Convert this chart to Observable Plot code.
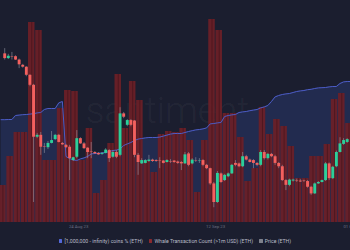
<!DOCTYPE html>
<html><head><meta charset="utf-8">
<script src="https://cdn.jsdelivr.net/npm/d3@7"></script>
<script src="https://cdn.jsdelivr.net/npm/@observablehq/plot@0.6"></script>
<style>
html,body{margin:0;padding:0;background:#1b1e2f;}
#chart{position:relative;width:350px;height:250px;overflow:hidden;background:#1b1e2f;font-family:Roboto,sans-serif;}
#chart svg{position:absolute;left:0;top:0;}
#legend{position:absolute;left:0;top:235px;width:350px;height:12px;display:flex;justify-content:center;align-items:center;gap:6px;font-size:5.2px;color:#b9bcc8;white-space:nowrap;}
.item{display:flex;align-items:center;gap:2px;}
.sw{width:3.6px;height:3.6px;border-radius:0.5px;display:inline-block;}
</style></head><body><div id="chart"><div id="legend"></div></div>
<script>
// ---- data ----
const startDay = Date.UTC(2023, 7, 13); // 13 Aug 2023, first day shown
// daily whale transaction count (>1m USD), 13 Aug .. 30 Sep
const whaleCounts = [37,66,90,90,200,192,62,62,114,132,131,62,94,29,42,79,148,94,141,122,62,50,88,91,90,94,82,30,82,203,192,109,109,85,41,54,115,88,103,96,76,44,44,66,66,78,123,129,99];
// [1,000,000 - infinity) coins % (12h points, index 0..97)
const holdersPct = [39.04,39.04,39.05,39.05,39.25,39.27,39.29,39.30,39.32,39.34,39.38,39.40,39.55,39.60,39.60,39.60,39.88,39.95,37.20,37.10,37.03,37.00,37.08,37.13,37.20,37.33,37.35,37.36,37.38,37.40,37.45,37.50,37.52,37.58,37.75,37.83,37.90,38.00,38.07,38.10,38.13,38.15,38.15,38.15,38.17,38.22,38.27,38.32,38.35,38.35,38.35,38.40,38.45,38.49,38.53,38.55,38.58,38.63,38.83,38.85,38.88,38.90,39.20,39.25,39.28,39.30,39.40,39.43,39.45,39.49,39.52,39.55,39.63,39.68,39.75,39.95,40.18,40.25,40.30,40.33,40.35,40.40,40.45,40.48,40.50,40.54,40.56,40.60,40.63,40.64,40.65,40.68,40.70,40.70,40.85,40.93,40.95,40.95];
// ETH price 12h candles (index 1..96)
const priceOpen = [1848,1838,1842,1842,1835,1824,1820,1803,1782,1673,1677,1653,1651,1660,1668,1677,1660,1656,1652,1624,1631,1670,1659,1650,1642,1641,1639,1637,1639,1645,1631,1641,1635,1722,1698,1708,1707,1635,1617,1618,1622,1625,1624,1623,1623,1620,1622,1623,1621,1620,1617,1638,1617,1624,1622,1624,1614,1607,1575,1536,1596,1582,1590,1596,1618,1617,1611,1632,1625,1624,1618,1614,1641,1628,1637,1632,1618,1611,1582,1572,1581,1582,1581,1581,1580,1568,1554,1575,1578,1582,1617,1586,1611,1641,1658,1662];
const priceClose = [1838,1843,1841,1835,1825,1820,1803,1782,1673,1677,1652,1652,1660,1666,1677,1662,1657,1651,1628,1630,1670,1659,1649,1641,1641,1638,1636,1639,1646,1628,1641,1631,1722,1715,1708,1698,1635,1620,1624,1624,1625,1622,1622,1622,1618,1624,1621,1620,1618,1617,1636,1614,1625,1623,1623,1614,1607,1575,1536,1597,1578,1593,1596,1614,1614,1611,1632,1625,1620,1618,1614,1641,1628,1637,1632,1618,1611,1582,1572,1583,1583,1581,1579,1580,1568,1554,1575,1578,1582,1617,1586,1610,1641,1659,1666,1668];
const priceHigh = [1859,1847,1851,1844,1837,1826,1821,1804,1784,1681,1683,1660,1664,1685,1679,1679,1662,1658,1656,1631,1687,1672,1662,1651,1662,1643,1641,1641,1649,1647,1645,1645,1735,1725,1710,1710,1708,1639,1628,1626,1635,1627,1626,1630,1624,1626,1626,1624,1623,1622,1641,1641,1628,1630,1628,1626,1616,1608,1578,1601,1598,1595,1598,1616,1624,1619,1641,1635,1627,1626,1620,1645,1645,1639,1639,1635,1620,1614,1584,1585,1585,1585,1584,1583,1582,1570,1577,1580,1583,1620,1619,1612,1644,1672,1670,1670];
const priceLow = [1835,1836,1835,1834,1817,1818,1800,1779,1536,1670,1635,1639,1647,1659,1666,1661,1656,1649,1582,1622,1628,1658,1647,1628,1628,1637,1635,1635,1638,1620,1629,1628,1632,1712,1695,1695,1630,1593,1616,1617,1620,1620,1620,1607,1617,1619,1618,1618,1616,1603,1616,1611,1615,1620,1618,1611,1605,1572,1525,1534,1576,1580,1588,1595,1611,1609,1609,1623,1619,1607,1611,1611,1625,1625,1630,1614,1607,1580,1561,1569,1579,1578,1578,1578,1566,1551,1553,1574,1577,1580,1582,1584,1609,1640,1656,1660];
const tickLabels = ["24 Aug 23", "12 Sep 23", "01 Oct 23"];
const tickDates = [Date.UTC(2023,7,24), Date.UTC(2023,8,12), Date.UTC(2023,9,1)].map(t => new Date(t));
const legendItems = [
  {label: "[1,000,000 - infinity) coins % (ETH)", color: "#5468d8"},
  {label: "Whale Transaction Count (>1m USD) (ETH)", color: "#8a2a2e"},
  {label: "Price (ETH)", color: "#7f828c"}
];

// ---- tables ----
const H12 = 12 * 3600e3, DAY = 24 * 3600e3;
const bars = whaleCounts.map((c, k) => ({start: new Date(startDay + k*DAY), mid: new Date(startDay + k*DAY + H12), end: new Date(startDay + (k+1)*DAY), count: c}));
const holders = holdersPct.map((v, j) => ({date: new Date(startDay + (j + 0.5)*H12), pct: v}));
const candles = priceOpen.map((o, i) => {
  const j = i + 1;
  return {date: new Date(startDay + (j + 0.5)*H12), open: o, close: priceClose[i], high: priceHigh[i], low: priceLow[i]};
});

// ---- layout ----
const W = 350, H = 232;
const xDomain = [new Date(Date.UTC(2023,7,13,4)), new Date(Date.UTC(2023,8,30,17))];
const base = {width: W, height: H, marginTop: 0, marginLeft: 0, marginRight: 0, marginBottom: 10,
  style: {background: "transparent", fontFamily: "Roboto, sans-serif", overflow: "visible"}};
const pctY = {domain: [33.9, 45], axis: null};
const chart = document.getElementById("chart");

const layerArea = Plot.plot({...base, x: {type: "utc", domain: xDomain, axis: null}, y: pctY,
  marks: [
    Plot.text(["santiment"], {frameAnchor: "middle", dx: -8, dy: 0, fontSize: 37, fontWeight: 300, fill: "#ffffff", fillOpacity: 0.05, fontFamily: "Roboto"}),
    Plot.areaY(holders, {x: "date", y1: 33.9, y2: "pct", fill: "#222b4f", curve: "linear"})
  ]});

const layerBars = Plot.plot({...base, x: {type: "utc", domain: xDomain, axis: null}, y: {domain: [0, 222], axis: null},
  marks: [
    Plot.rectY(bars, {x1: "start", x2: "end", y: "count", fill: "#6d1f27", fillOpacity: 0.92, insetLeft: 0.35, insetRight: 0.35}),
    Plot.ruleX(bars, {x: "mid", y1: 0, y2: "count", stroke: "#3f121a", strokeWidth: 0.6})
  ]});

const layerLine = Plot.plot({...base, x: {type: "utc", domain: xDomain, axis: null}, y: pctY,
  marks: [
    Plot.line(holders, {x: "date", y: "pct", stroke: "#4c5cc6", strokeWidth: 1})
  ]});

const layerPrice = Plot.plot({...base, x: {type: "utc", domain: xDomain}, y: {domain: [1494, 1960], axis: null},
  marks: [
    Plot.ruleX(candles, {x: "date", y1: "low", y2: "high", stroke: "#9a9ca8", strokeWidth: 0.7, strokeOpacity: 0.8}),
    Plot.ruleX(candles, {x: "date", y1: "open", y2: "close", stroke: d => d.close >= d.open ? "#2ccf9a" : "#f3605e", strokeWidth: 2.9}),
    Plot.axisX(tickDates, {tickSize: 0, tickPadding: 2.5, fontSize: 4.3, fill: "#6c7083",
      tickFormat: d => tickLabels[tickDates.findIndex(t => +t === +d)]})
  ]});

for (const svg of [layerArea, layerBars, layerLine, layerPrice]) chart.insertBefore(svg, document.getElementById("legend"));

const legend = document.getElementById("legend");
for (const it of legendItems) {
  const item = document.createElement("span"); item.className = "item";
  const sw = document.createElement("span"); sw.className = "sw"; sw.style.background = it.color;
  const tx = document.createElement("span"); tx.textContent = it.label;
  item.append(sw, tx); legend.append(item);
}
</script></body></html>
